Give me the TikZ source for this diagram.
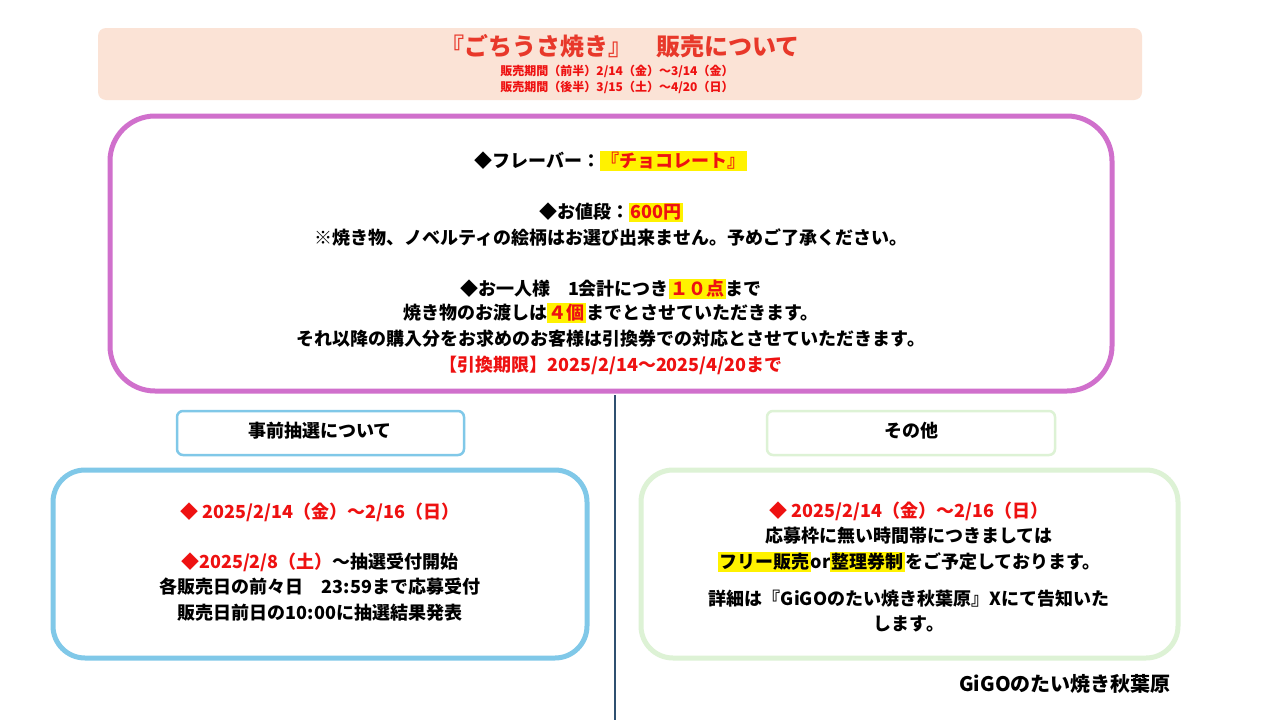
\documentclass[tikz,border=0pt]{standalone}
\usepackage{fontspec}
\setmainfont{Noto Sans CJK JP}
\usepackage{xcolor}
\definecolor{hdr}{HTML}{FBE3D6}
\definecolor{tred}{HTML}{EE1111}
\definecolor{ttl}{HTML}{E8382A}
\definecolor{purp}{HTML}{D070CC}
\definecolor{lblue}{HTML}{80C8E8}
\definecolor{lgreen}{HTML}{DDF2D5}
\definecolor{vline}{HTML}{2F5070}
\newcommand{\hl}[1]{{\setlength{\fboxsep}{1.5pt}\colorbox{yellow}{\textcolor{tred}{#1}}}}
\newcommand{\hlk}[1]{{\setlength{\fboxsep}{1.5pt}\colorbox{yellow}{#1}}}
\begin{document}
\begin{tikzpicture}[x=1pt,y=-1pt,
  txt/.style={font=\fontsize{18}{25}\selectfont\bfseries, align=center, inner sep=0},
  lab/.style={draw, line width=2.5pt, rounded corners=6pt},
  big/.style={draw, line width=5pt, rounded corners=32pt}]
\useasboundingbox (0,0) rectangle (1280,720);
\fill[white] (0,0) rectangle (1280,720);
\fill[hdr, rounded corners=8pt] (98,28) rectangle (1142,100);
\node[txt, text=ttl, font=\fontsize{24}{28}\selectfont\bfseries] (title) at (620,46) {『ごちうさ焼き』\quad 販売について};
\node[txt, text=tred, font=\fontsize{12}{16}\selectfont\bfseries] (sub) at (617,79) {販売期間（前半）2/14（金）～3/14（金）\\販売期間（後半）3/15（土）～4/20（日）};
\draw[purp, big, rounded corners=45pt] (110,116) rectangle (1112,391);
\node[txt] (l1) at (611,161) {◆フレーバー：\hl{『チョコレート』}};
\node[txt] (l2) at (611,212) {◆お値段：\hl{600円}};
\node[txt] (l3) at (611,238) {※焼き物、ノベルティの絵柄はお選び出来ません。予めご了承ください。};
\node[txt] (l4) at (611,289) {◆お一人様　1会計につき\hl{１０点}まで};
\node[txt] (l5) at (611,313) {焼き物のお渡しは\hl{４個}までとさせていただきます。};
\node[txt] (l6) at (611,339) {それ以降の購入分をお求めのお客様は引換券での対応とさせていただきます。};
\node[txt, text=tred] (l7) at (611,365) {【引換期限】2025/2/14～2025/4/20まで};
\coordinate (vt) at (615,395);
\coordinate (vb) at (615,720);
\draw[vline, line width=1.5pt] (vt) -- (vb);
\draw[lblue, lab] (177,411) rectangle (464,455);
\node[txt] (lt) at (320,431) {事前抽選について};
\draw[lgreen, lab] (767,411) rectangle (1055,455);
\node[txt] (rt) at (911,431) {その他};
\draw[lblue, big] (53,470) rectangle (587,658);
\draw[lgreen, big] (641,470) rectangle (1178,658);
\node[txt, text=tred] (a1) at (320,512) {◆ 2025/2/14（金）～2/16（日）};
\node[txt] (a2) at (320,562) {\textcolor{tred}{◆2025/2/8（土）}～抽選受付開始};
\node[txt] (a3) at (320,587) {各販売日の前々日　23:59まで応募受付};
\node[txt] (a4) at (320,613) {販売日前日の10:00に抽選結果発表};
\node[txt, text=tred] (b1) at (909,511) {◆ 2025/2/14（金）～2/16（日）};
\node[txt] (b2) at (909,536) {応募枠に無い時間帯につきましては};
\node[txt] (b3) at (909,562) {\hlk{フリー販売}or\hlk{整理券制}をご予定しております。};
\node[txt] (b4) at (909,611) {詳細は『GiGOのたい焼き秋葉原』Xにて告知いた\\します。};
\node[txt, font=\fontsize{20}{24}\selectfont\bfseries] (sig) at (1065,684) {GiGOのたい焼き秋葉原};
\end{tikzpicture}
\end{document}
